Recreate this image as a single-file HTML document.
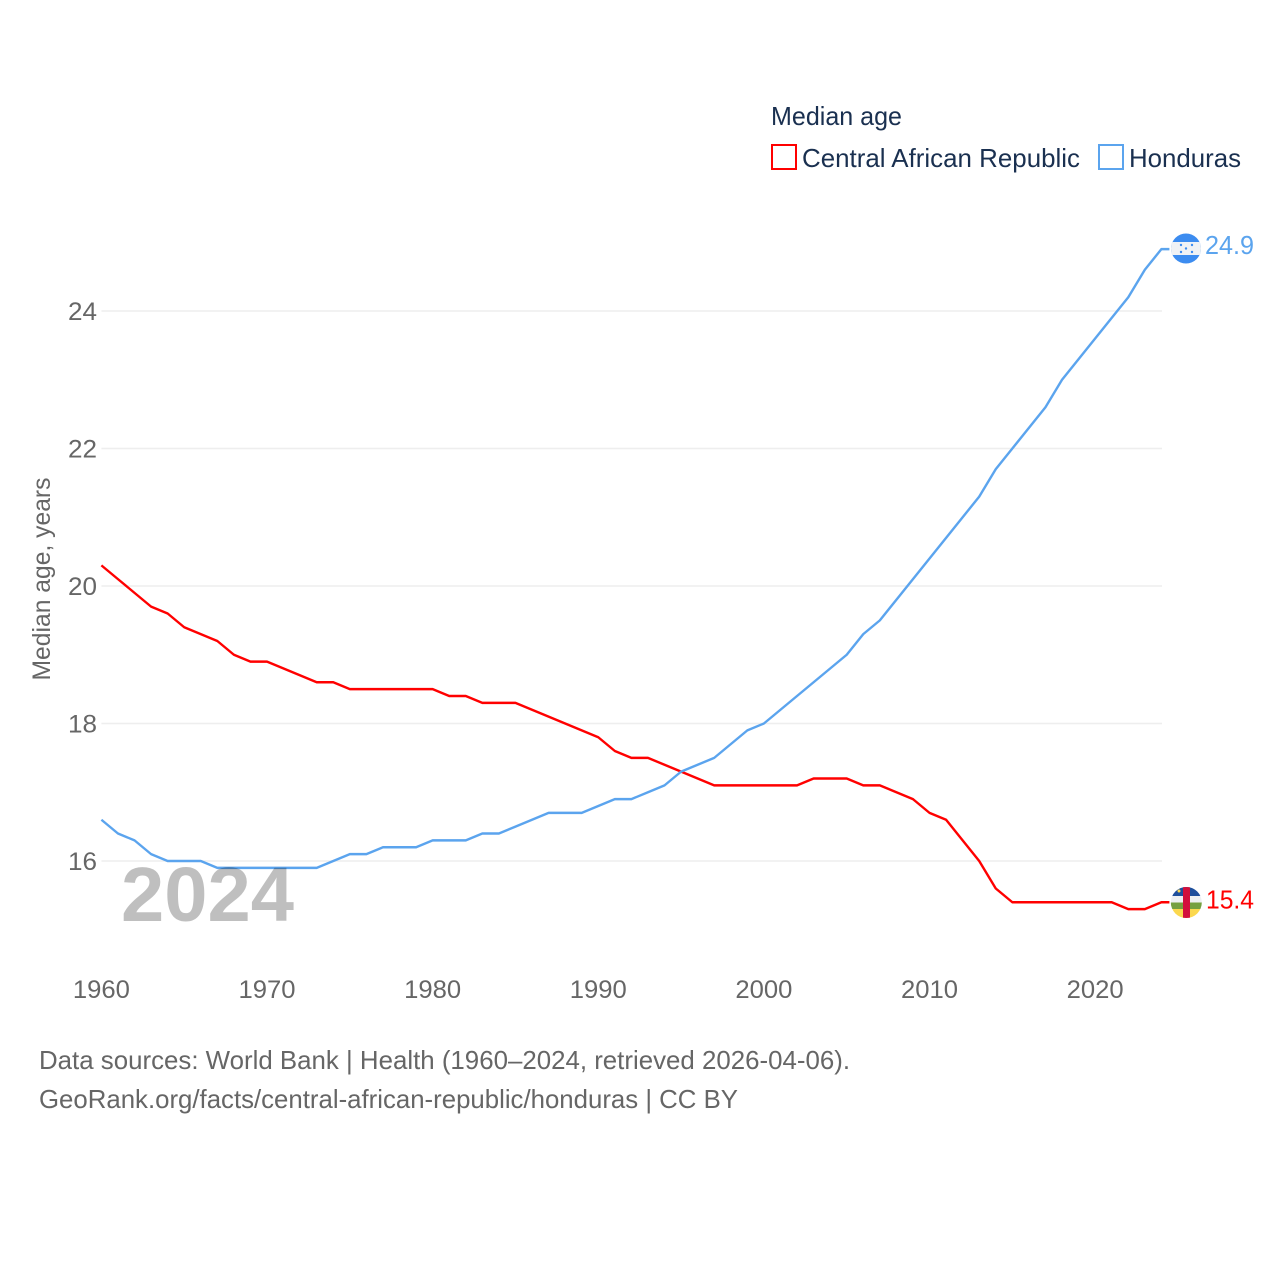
<!DOCTYPE html>
<html><head><meta charset="utf-8"><title>Median age</title>
<style>
html,body{margin:0;padding:0;background:#fff}
svg{display:block}
text{font-family:"Liberation Sans",sans-serif}
</style></head>
<body>
<svg id="chart" width="1280" height="1280" viewBox="0 0 1280 1280" xmlns="http://www.w3.org/2000/svg">
  <rect width="1280" height="1280" fill="#fff"/>
  <g id="grid"></g>
  <g id="yticks"></g>
  <g id="xticks"></g>
  <g id="lines"></g>
  <text transform="translate(50,579) rotate(-90)" text-anchor="middle" font-size="25" fill="#666" textLength="203" lengthAdjust="spacingAndGlyphs">Median age, years</text>
  <text x="121" y="921" font-size="77" font-weight="bold" fill="#000" fill-opacity="0.25" textLength="173" lengthAdjust="spacingAndGlyphs">2024</text>

  <text x="771" y="125" font-size="26" fill="#1a3050" textLength="131" lengthAdjust="spacingAndGlyphs">Median age</text>
  <rect x="772" y="145" width="24" height="24" fill="none" stroke="#ff0000" stroke-width="2"/>
  <text x="802" y="167" font-size="26" fill="#1a3050" textLength="278" lengthAdjust="spacingAndGlyphs">Central African Republic</text>
  <rect x="1099" y="145" width="24" height="24" fill="none" stroke="#5ba4ee" stroke-width="2"/>
  <text x="1129" y="167" font-size="26" fill="#1a3050" textLength="112" lengthAdjust="spacingAndGlyphs">Honduras</text>

  <defs>
    <clipPath id="clip-hn"><circle cx="1186" cy="248.5" r="15"/></clipPath>
    <clipPath id="clip-cf"><circle cx="1186.3" cy="902.5" r="15.5"/></clipPath>
  </defs>
  <g clip-path="url(#clip-hn)">
    <rect x="1171" y="233" width="30" height="31" fill="#3c8cf0"/>
    <rect x="1171" y="242" width="30" height="13" fill="#f0f2f5"/>
    <circle cx="1181" cy="245" r="1.2" fill="#3c8cf0"/>
    <circle cx="1192" cy="245" r="1.2" fill="#3c8cf0"/>
    <circle cx="1186" cy="248.5" r="1.2" fill="#3c8cf0"/>
    <circle cx="1181" cy="252" r="1.2" fill="#3c8cf0"/>
    <circle cx="1192" cy="252" r="1.2" fill="#3c8cf0"/>
  </g>
  <g clip-path="url(#clip-cf)">
    <rect x="1170" y="887" width="32" height="9" fill="#1f4f9c"/>
    <rect x="1170" y="896" width="32" height="6.5" fill="#eef0f2"/>
    <rect x="1170" y="902.5" width="32" height="6.5" fill="#75a040"/>
    <rect x="1170" y="909" width="32" height="9" fill="#fbd84e"/>
    <rect x="1183" y="887" width="7" height="31" fill="#d2103c"/>
    <circle cx="1179" cy="891" r="1.5" fill="#fbd84e"/>
  </g>
  <text x="1205" y="254" font-size="26" fill="#5ba4ee" textLength="49" lengthAdjust="spacingAndGlyphs">24.9</text>
  <text x="1206" y="908.5" font-size="26" fill="#ff0000" textLength="48" lengthAdjust="spacingAndGlyphs">15.4</text>

  <text x="39" y="1069" font-size="26" fill="#666" textLength="811" lengthAdjust="spacingAndGlyphs">Data sources: World Bank | Health (1960–2024, retrieved 2026-04-06).</text>
  <text x="39" y="1108" font-size="26" fill="#666" textLength="699" lengthAdjust="spacingAndGlyphs">GeoRank.org/facts/central-african-republic/honduras | CC BY</text>
</svg>
<script>
const years = [1960,1961,1962,1963,1964,1965,1966,1967,1968,1969,1970,1971,1972,1973,1974,1975,1976,1977,1978,1979,1980,1981,1982,1983,1984,1985,1986,1987,1988,1989,1990,1991,1992,1993,1994,1995,1996,1997,1998,1999,2000,2001,2002,2003,2004,2005,2006,2007,2008,2009,2010,2011,2012,2013,2014,2015,2016,2017,2018,2019,2020,2021,2022,2023,2024];
const carValues = [20.3,20.1,19.9,19.7,19.6,19.4,19.3,19.2,19.0,18.9,18.9,18.8,18.7,18.6,18.6,18.5,18.5,18.5,18.5,18.5,18.5,18.4,18.4,18.3,18.3,18.3,18.2,18.1,18.0,17.9,17.8,17.6,17.5,17.5,17.4,17.3,17.2,17.1,17.1,17.1,17.1,17.1,17.1,17.2,17.2,17.2,17.1,17.1,17.0,16.9,16.7,16.6,16.3,16.0,15.6,15.4,15.4,15.4,15.4,15.4,15.4,15.4,15.3,15.3,15.4];
const hondurasValues = [16.6,16.4,16.3,16.1,16.0,16.0,16.0,15.9,15.9,15.9,15.9,15.9,15.9,15.9,16.0,16.1,16.1,16.2,16.2,16.2,16.3,16.3,16.3,16.4,16.4,16.5,16.6,16.7,16.7,16.7,16.8,16.9,16.9,17.0,17.1,17.3,17.4,17.5,17.7,17.9,18.0,18.2,18.4,18.6,18.8,19.0,19.3,19.5,19.8,20.1,20.4,20.7,21.0,21.3,21.7,22.0,22.3,22.6,23.0,23.3,23.6,23.9,24.2,24.6,24.9];
const yTickValues = [16,18,20,22,24];
const xTickValues = [1960,1970,1980,1990,2000,2010,2020];

const NS = 'http://www.w3.org/2000/svg';
function xScale(year){ return 101.4 + (year - 1960) * (1060 / 64); }
function yScale(v){ return 861 - (v - 16) * 68.75; }
function make(tag, attrs, parent){
  const el = document.createElementNS(NS, tag);
  for (const k in attrs) el.setAttribute(k, attrs[k]);
  parent.appendChild(el);
  return el;
}
const gridG = document.getElementById('grid');
const yG = document.getElementById('yticks');
const xG = document.getElementById('xticks');
const linesG = document.getElementById('lines');

yTickValues.forEach(function(v){
  const line = make('line', {x1:101.4, x2:1162, y1:yScale(v), y2:yScale(v), stroke:'#eeeeee', 'stroke-width':1.5}, gridG);
  
  
  const t = make('text', {x:97, y:yScale(v)+9, 'text-anchor':'end', 'font-size':25, fill:'#666', textLength:29, lengthAdjust:'spacingAndGlyphs'}, yG);
  
  
  t.textContent = v;
});
xTickValues.forEach(function(y){
  const t = make('text', {x:xScale(y), y:998, 'text-anchor':'middle', 'font-size':25, fill:'#666', textLength:57, lengthAdjust:'spacingAndGlyphs'}, xG);
  
  
  t.textContent = y;
});
function buildPath(values){
  let d = '';
  values.forEach(function(v, i){
    d += (i ? 'L' : 'M') + xScale(years[i]).toFixed(2) + ' ' + yScale(v).toFixed(2);
  });
  d += 'H' + (xScale(years[years.length - 1]) + 8);
  return d;
}
const carLine = make('path', {d:buildPath(carValues), fill:'none', stroke:'#ff0000', 'stroke-width':2.4, 'stroke-linejoin':'round'}, linesG);


const hnLine = make('path', {d:buildPath(hondurasValues), fill:'none', stroke:'#5ba4ee', 'stroke-width':2.4, 'stroke-linejoin':'round'}, linesG);


</script>
</body></html>
